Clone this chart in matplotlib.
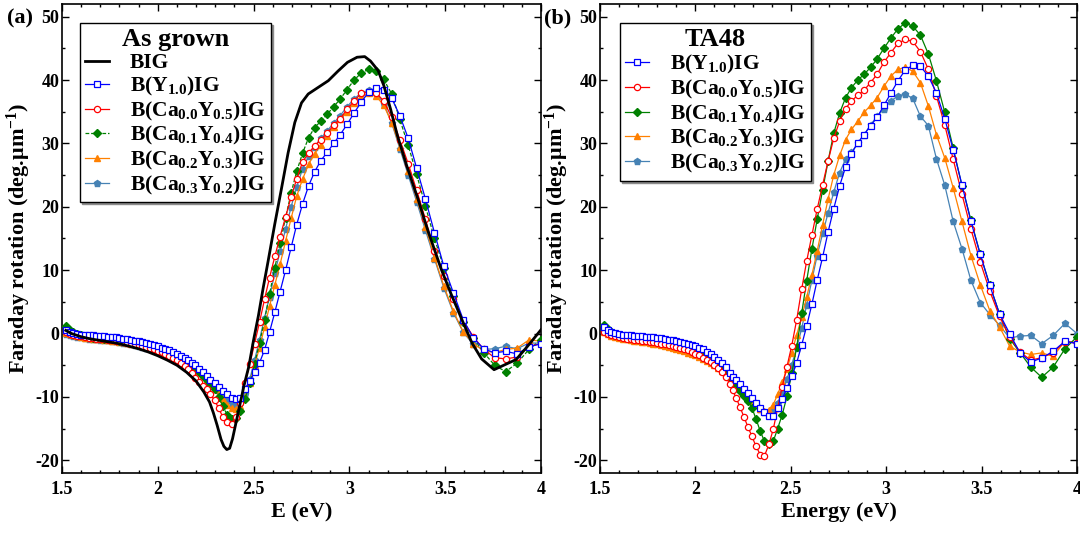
import matplotlib
matplotlib.use('Agg')
import matplotlib.pyplot as plt
from matplotlib.ticker import MultipleLocator

# ---------------- data ----------------
E_low = [1.52, 1.54, 1.56, 1.58, 1.60, 1.62, 1.64, 1.66, 1.68, 1.70, 1.72, 1.74,
         1.76, 1.78, 1.80, 1.82, 1.84, 1.86, 1.88, 1.90, 1.92, 1.94, 1.96, 1.98,
         2.00, 2.02, 2.04, 2.06, 2.08, 2.10, 2.12, 2.14, 2.16, 2.18]
E_high = [2.195, 2.214, 2.234, 2.255, 2.275, 2.296, 2.318, 2.340, 2.362, 2.385,
          2.408, 2.431, 2.455, 2.480, 2.505, 2.531, 2.557, 2.583, 2.611, 2.638,
          2.667, 2.696, 2.725, 2.756, 2.787, 2.818, 2.851, 2.884, 2.918, 2.952,
          2.988, 3.024, 3.062, 3.100, 3.139, 3.179, 3.221, 3.263, 3.307, 3.351,
          3.397, 3.444, 3.493, 3.543, 3.594, 3.647, 3.701, 3.758, 3.815, 3.875,
          3.937, 4.000]
energy = E_low + E_high

# (a) As grown
a_Y10 = [0.6, 0.3, 0.1, -0.05, -0.15, -0.2, -0.25, -0.3, -0.35, -0.4, -0.45, -0.5,
         -0.55, -0.6, -0.7, -0.8, -0.9, -1.0, -1.1, -1.2, -1.35, -1.5, -1.65, -1.8,
         -2.0, -2.2, -2.4, -2.65, -2.9, -3.2, -3.5, -3.85, -4.2, -4.6,
         -5.0, -5.6, -6.1, -6.7, -7.3, -7.8, -8.4, -9.0, -9.6, -10.1,
         -10.3, -10.2, -8.7, -7.5, -6.1, -4.6, -2.6, 0.2, 3.4, 6.6,
         10.0, 13.6, 17.2, 20.5, 23.3, 25.5, 27.3, 28.6, 30.0, 31.4,
         33.0, 34.8, 36.5, 38.1, 38.8, 38.5, 37.1, 34.4, 30.8, 26.1,
         21.2, 15.9, 10.6, 6.4, 2.2, -0.7, -2.4, -3.05, -2.8, -3.2,
         -2.1, -1.6]
a_C00 = [0.3, 0.0, -0.2, -0.35, -0.45, -0.55, -0.65, -0.7, -0.8, -0.85, -0.9, -1.0,
         -1.05, -1.15, -1.25, -1.35, -1.45, -1.55, -1.7, -1.85, -2.0, -2.15, -2.3, -2.5,
         -2.7, -2.95, -3.2, -3.5, -3.85, -4.2, -4.6, -5.1, -5.6, -6.2,
         -7.0, -7.6, -8.2, -8.8, -9.6, -10.5, -11.8, -13.2, -14.0, -14.2,
         -13.2, -11.0, -7.8, -4.8, -1.6, 1.8, 5.4, 8.8, 12.2, 15.3,
         18.4, 21.6, 24.4, 27.1, 28.5, 29.6, 30.6, 31.6, 32.9, 33.9,
         35.4, 36.7, 37.9, 38.1, 38.0, 36.7, 34.1, 30.6, 26.8, 22.6,
         18.0, 13.0, 9.05, 5.4, 1.95, -0.5, -2.5, -3.8, -4.0, -3.7,
         -2.0, -1.6]
a_C01 = [1.2, 0.6, 0.2, -0.1, -0.3, -0.45, -0.55, -0.65, -0.7, -0.75, -0.8, -0.85,
         -0.9, -1.0, -1.1, -1.2, -1.3, -1.4, -1.5, -1.6, -1.7, -1.85, -2.0, -2.15,
         -2.3, -2.5, -2.7, -2.95, -3.2, -3.5, -3.9, -4.3, -4.7, -5.1,
         -5.6, -6.1, -6.7, -7.3, -7.9, -8.8, -10.0, -11.5, -12.8, -13.5,
         -13.3, -12.2, -10.3, -7.8, -4.8, -1.5, 2.1, 6.2, 10.4, 14.3,
         18.3, 22.2, 25.6, 28.5, 30.9, 32.5, 33.5, 34.6, 35.8, 37.0,
         38.5, 40.0, 41.1, 41.7, 41.4, 40.1, 37.8, 33.8, 29.7, 25.1,
         20.1, 15.0, 10.4, 5.9, 1.9, -0.7, -3.0, -5.0, -6.0, -4.7,
         -2.5, -1.0]
a_C02 = [0.1, -0.1, -0.3, -0.45, -0.55, -0.65, -0.75, -0.8, -0.85, -0.9, -0.95, -1.0,
         -1.1, -1.2, -1.3, -1.4, -1.5, -1.6, -1.7, -1.85, -2.0, -2.15, -2.3, -2.5,
         -2.7, -2.9, -3.1, -3.35, -3.6, -3.9, -4.2, -4.55, -4.9, -5.25,
         -5.6, -6.1, -6.7, -7.4, -8.1, -8.8, -9.5, -10.3, -11.2, -11.8,
         -11.9, -11.5, -10.0, -7.8, -5.0, -2.2, 1.0, 4.3, 7.7, 10.9,
         14.6, 18.2, 21.7, 24.4, 26.7, 28.4, 29.8, 31.2, 32.6, 33.8,
         35.0, 36.4, 37.4, 37.9, 37.5, 36.0, 33.3, 29.5, 25.6, 21.3,
         16.8, 12.0, 7.5, 3.5, 0.3, -1.6, -2.7, -3.0, -2.5, -2.3,
         -1.0, -1.2]
a_C03 = [0.0, -0.2, -0.35, -0.5, -0.6, -0.7, -0.8, -0.85, -0.9, -0.95, -1.0, -1.05,
         -1.15, -1.25, -1.35, -1.45, -1.55, -1.65, -1.75, -1.9, -2.05, -2.2, -2.35, -2.55,
         -2.75, -2.95, -3.15, -3.4, -3.65, -3.95, -4.3, -4.65, -5.0, -5.35,
         -5.6, -6.1, -6.7, -7.3, -7.9, -8.5, -9.1, -9.8, -10.5, -11.0,
         -11.2, -10.8, -9.5, -7.2, -4.2, -1.0, 2.5, 5.8, 9.5, 13.0,
         16.5, 20.0, 23.2, 26.0, 28.0, 29.5, 30.8, 32.0, 33.2, 34.4,
         35.8, 37.0, 38.0, 38.4, 38.0, 36.3, 33.2, 29.2, 25.0, 20.8,
         16.3, 11.8, 7.2, 3.3, 0.2, -1.7, -2.5, -2.4, -2.0, -2.4,
         -1.5, -1.5]

BIG_E = [1.52, 1.55, 1.60, 1.65, 1.70, 1.75, 1.80, 1.85, 1.90, 1.95, 2.00, 2.05,
         2.10, 2.15, 2.20, 2.24, 2.27, 2.29, 2.31, 2.33, 2.345, 2.36, 2.375, 2.39,
         2.41, 2.43, 2.45, 2.475, 2.50, 2.525, 2.55, 2.575, 2.61, 2.645, 2.68, 2.715,
         2.75, 2.785, 2.835, 2.89, 2.94, 2.99, 3.04, 3.08, 3.11, 3.15, 3.18, 3.215,
         3.25, 3.30, 3.355, 3.41, 3.48, 3.53, 3.59, 3.64, 3.69, 3.755, 3.87, 3.93, 4.0]
BIG_V = [0.5, 0.0, -0.5, -0.85, -1.1, -1.35, -1.6, -2.0, -2.4, -2.9, -3.5, -4.2,
         -5.0, -6.1, -7.5, -9.2, -10.8, -12.5, -14.5, -16.7, -17.8, -18.3, -18.1, -16.6,
         -13.8, -11.0, -8.2, -5.2, -1.0, 2.8, 7.2, 11.3, 17.2, 22.8, 28.5, 33.3,
         36.4, 37.8, 38.8, 39.9, 41.4, 42.8, 43.6, 43.7, 43.0, 41.5, 39.1, 35.4,
         31.3, 26.4, 21.5, 16.2, 10.1, 6.3, 2.0, -1.5, -4.0, -5.7, -4.1, -2.0, 0.6]

# (b) TA48
b_Y10 = [1.0, 0.6, 0.3, 0.1, -0.05, -0.15, -0.25, -0.3, -0.35, -0.4, -0.45, -0.5,
         -0.55, -0.6, -0.7, -0.75, -0.85, -0.95, -1.05, -1.15, -1.3, -1.45, -1.6, -1.8,
         -2.0, -2.25, -2.5, -2.85, -3.25, -3.7, -4.1, -4.6, -5.3, -6.2,
         -6.8, -7.4, -8.0, -8.7, -9.4, -10.2, -10.9, -11.7, -12.4, -13.0,
         -13.0, -11.8, -10.3, -8.6, -6.7, -4.6, -1.8, 1.15, 4.7, 8.4,
         12.1, 16.1, 19.7, 23.3, 26.3, 28.4, 30.1, 31.4, 32.8, 34.1,
         36.0, 37.9, 39.9, 41.6, 42.3, 42.2, 40.6, 38.0, 33.9, 29.0,
         23.5, 17.7, 12.5, 7.6, 3.1, 0.0, -3.05, -4.5, -3.85, -2.8,
         -1.2, -1.6]
b_C00 = [0.2, -0.1, -0.3, -0.45, -0.6, -0.7, -0.8, -0.9, -1.0, -1.05, -1.1, -1.2,
         -1.3, -1.4, -1.5, -1.6, -1.7, -1.8, -1.95, -2.1, -2.25, -2.45, -2.65, -2.9,
         -3.15, -3.45, -3.8, -4.15, -4.55, -5.0, -5.5, -6.1, -6.9, -7.9,
         -8.9, -10.2, -11.6, -13.2, -14.7, -16.2, -17.8, -19.1, -19.3, -17.5,
         -15.1, -11.8, -8.4, -5.2, -1.9, 2.2, 7.0, 11.4, 15.6, 19.6,
         23.5, 27.3, 30.8, 33.5, 35.5, 36.7, 37.6, 38.4, 39.6, 40.9,
         42.8, 44.3, 45.8, 46.4, 46.1, 44.5, 41.7, 37.5, 32.9, 27.5,
         22.0, 16.5, 11.3, 6.7, 2.7, -0.5, -2.9, -4.2, -3.8, -3.0,
         -1.3, -1.5]
b_C01 = [1.3, 0.7, 0.3, 0.0, -0.2, -0.35, -0.5, -0.6, -0.7, -0.8, -0.9, -1.0,
         -1.05, -1.1, -1.2, -1.3, -1.4, -1.5, -1.6, -1.75, -1.9, -2.05, -2.2, -2.4,
         -2.6, -2.85, -3.15, -3.5, -3.9, -4.4, -4.9, -5.5, -6.2, -6.9,
         -7.6, -8.3, -9.0, -9.8, -10.6, -11.7, -13.5, -15.4, -17.0, -17.5,
         -17.0, -15.0, -12.8, -9.9, -6.3, -2.1, 3.2, 8.3, 13.4, 18.0,
         22.7, 27.3, 31.6, 34.8, 37.2, 38.8, 40.0, 40.9, 42.0, 43.3,
         45.0, 46.6, 48.1, 49.0, 48.5, 47.1, 44.1, 39.9, 34.9, 29.3,
         23.3, 17.9, 12.5, 7.6, 3.1, -0.8, -3.0, -5.3, -6.9, -5.3,
         -2.4, -0.5]
b_C02 = [0.2, -0.1, -0.35, -0.55, -0.7, -0.8, -0.9, -1.0, -1.1, -1.2, -1.3, -1.4,
         -1.5, -1.6, -1.7, -1.8, -1.95, -2.1, -2.25, -2.4, -2.6, -2.8, -3.0, -3.2,
         -3.45, -3.7, -4.0, -4.3, -4.65, -5.0, -5.4, -5.85, -6.3, -6.8,
         -7.3, -7.9, -8.5, -9.2, -9.9, -10.6, -11.3, -11.9, -12.2, -12.0,
         -11.2, -9.6, -7.7, -5.6, -3.0, -0.2, 2.6, 5.7, 9.3, 13.0,
         17.2, 21.3, 25.0, 28.1, 30.6, 32.2, 33.5, 34.9, 36.0, 37.2,
         39.0, 40.6, 41.7, 42.0, 41.4, 39.6, 35.9, 31.4, 27.7, 23.0,
         17.7, 12.3, 7.7, 3.6, 1.05, -2.0, -2.9, -3.3, -3.05, -3.6,
         -1.2, -1.4]
b_C03 = [0.4, 0.1, -0.15, -0.35, -0.5, -0.6, -0.7, -0.8, -0.9, -1.0, -1.1, -1.2,
         -1.3, -1.4, -1.5, -1.6, -1.75, -1.9, -2.05, -2.2, -2.4, -2.6, -2.8, -3.0,
         -3.25, -3.5, -3.8, -4.1, -4.45, -4.8, -5.2, -5.65, -6.1, -6.6,
         -7.1, -7.7, -8.4, -9.1, -9.8, -10.5, -11.2, -11.9, -12.4, -12.5,
         -12.0, -11.0, -9.3, -7.2, -4.9, -2.3, 0.8, 4.5, 8.5, 12.3,
         15.8, 19.1, 22.3, 25.4, 27.5, 28.6, 30.0, 31.4, 32.9, 34.3,
         35.4, 36.7, 37.5, 37.8, 37.1, 34.3, 32.8, 27.6, 23.4, 17.7,
         13.4, 8.4, 4.9, 3.0, 1.3, -0.7, -0.4, -0.3, -1.6, -0.3,
         1.6, 0.0]

labels = ['B(Y$_{1.0}$)IG', 'B(Ca$_{0.0}$Y$_{0.5}$)IG', 'B(Ca$_{0.1}$Y$_{0.4}$)IG',
          'B(Ca$_{0.2}$Y$_{0.3}$)IG', 'B(Ca$_{0.3}$Y$_{0.2}$)IG']
x_ticks = [1.5, 2, 2.5, 3, 3.5, 4]
x_ticklabels = ['1.5', '2', '2.5', '3', '3.5', '4']
y_ticks = [-20, -10, 0, 10, 20, 30, 40, 50]

for s in (a_Y10, a_C00, a_C01, a_C02, a_C03, b_Y10, b_C00, b_C01, b_C02, b_C03):
    assert len(s) == len(energy), len(s)

# ---------------- style ----------------
plt.rcParams.update({
    'font.family': ['Liberation Serif', 'DejaVu Serif'],
    'font.weight': 'bold',
    'axes.labelweight': 'bold',
    'axes.unicode_minus': False,
    'mathtext.fontset': 'custom',
    'mathtext.rm': 'Liberation Serif:bold',
    'mathtext.it': 'Liberation Serif:bold:italic',
    'mathtext.bf': 'Liberation Serif:bold',
    'mathtext.default': 'rm',
})

C_BLUE = '#0000ff'
C_RED = '#ff0000'
C_GREEN = '#008000'
C_ORANGE = '#ff8000'
C_STEEL = '#4682b4'

fig = plt.figure(figsize=(10.8, 5.36), dpi=100)
ax1 = fig.add_axes([62 / 1080, 1 - 473 / 536, 479 / 1080, 469 / 536])
ax2 = fig.add_axes([600 / 1080, 1 - 473 / 536, 477 / 1080, 469 / 536])


def draw(ax, Y10, C00, C01, C02, C03, green_ls):
    h3, = ax.plot(energy, C03, color=C_STEEL, marker='p', ms=5, mfc=C_STEEL,
                  mec=C_STEEL, lw=0.9, zorder=3)
    h2, = ax.plot(energy, C02, color=C_ORANGE, marker='^', ms=5, mfc=C_ORANGE,
                  mec=C_ORANGE, lw=0.9, zorder=4)
    h1, = ax.plot(energy, C01, color=C_GREEN, marker='D', ms=4, mfc=C_GREEN,
                  mec=C_GREEN, lw=0.9, ls=green_ls, zorder=5)
    h0, = ax.plot(energy, C00, color=C_RED, marker='o', ms=4.5, mfc='white',
                  mec=C_RED, mew=0.9, lw=0.9, zorder=6)
    hy, = ax.plot(energy, Y10, color=C_BLUE, marker='s', ms=4.5, mfc='white',
                  mec=C_BLUE, mew=0.9, lw=0.9, zorder=7)
    return [hy, h0, h1, h2, h3]


hA = draw(ax1, a_Y10, a_C00, a_C01, a_C02, a_C03, (0, (3, 1.5)))
hBIG, = ax1.plot(BIG_E, BIG_V, color='black', lw=2, zorder=8)
hB = draw(ax2, b_Y10, b_C00, b_C01, b_C02, b_C03, '-')

for ax in (ax1, ax2):
    ax.set_xlim(1.5, 4.0)
    ax.set_ylim(-22, 52)
    ax.set_xticks(x_ticks)
    ax.set_xticklabels(x_ticklabels)
    ax.set_yticks(y_ticks)
    ax.xaxis.set_minor_locator(MultipleLocator(0.1))
    ax.yaxis.set_minor_locator(MultipleLocator(5))
    ax.tick_params(which='both', direction='in', top=True, right=True,
                   labelsize=13, width=1.0)
    ax.tick_params(which='major', length=5)
    ax.tick_params(which='minor', length=2.5)
    ax.tick_params(axis='y', pad=2)
    ax.tick_params(axis='x', pad=6)
    for sp in ax.spines.values():
        sp.set_linewidth(1.2)
    ax.set_ylabel('Faraday rotation (deg.μm$^{-1}$)', fontsize=16, labelpad=2)

ax1.set_xlabel('E (eV)', fontsize=16, labelpad=3)
ax2.set_xlabel('Energy (eV)', fontsize=16, labelpad=3)

leg_kw = dict(loc='upper left', fontsize=15.5, title_fontsize=19, frameon=True,
              fancybox=False, edgecolor='black', framealpha=1, borderpad=0.25,
              labelspacing=0.08, handlelength=1.1, handletextpad=0.95,
              borderaxespad=0, numpoints=1,
              shadow={'ox': 1.5, 'oy': -1.5, 'color': '0.55', 'alpha': 1.0})
leg1 = ax1.legend([hBIG] + hA, ['BIG'] + labels, title='As grown',
                  bbox_to_anchor=(18 / 479, 1 - 19 / 469), **leg_kw)
leg2 = ax2.legend(hB, labels, title='TA48',
                  bbox_to_anchor=(20 / 477, 1 - 19 / 469), **leg_kw)
for lg in (leg1, leg2):
    lg.get_frame().set_linewidth(1.0)
    lg.get_title().set_fontweight('bold')

fig.text(7 / 1080, 1 - 18 / 536, '(a)', fontsize=16, fontweight='bold', va='center')
fig.text(544 / 1080, 1 - 18 / 536, '(b)', fontsize=16, fontweight='bold', va='center')

fig.savefig('out.png', dpi=100)
